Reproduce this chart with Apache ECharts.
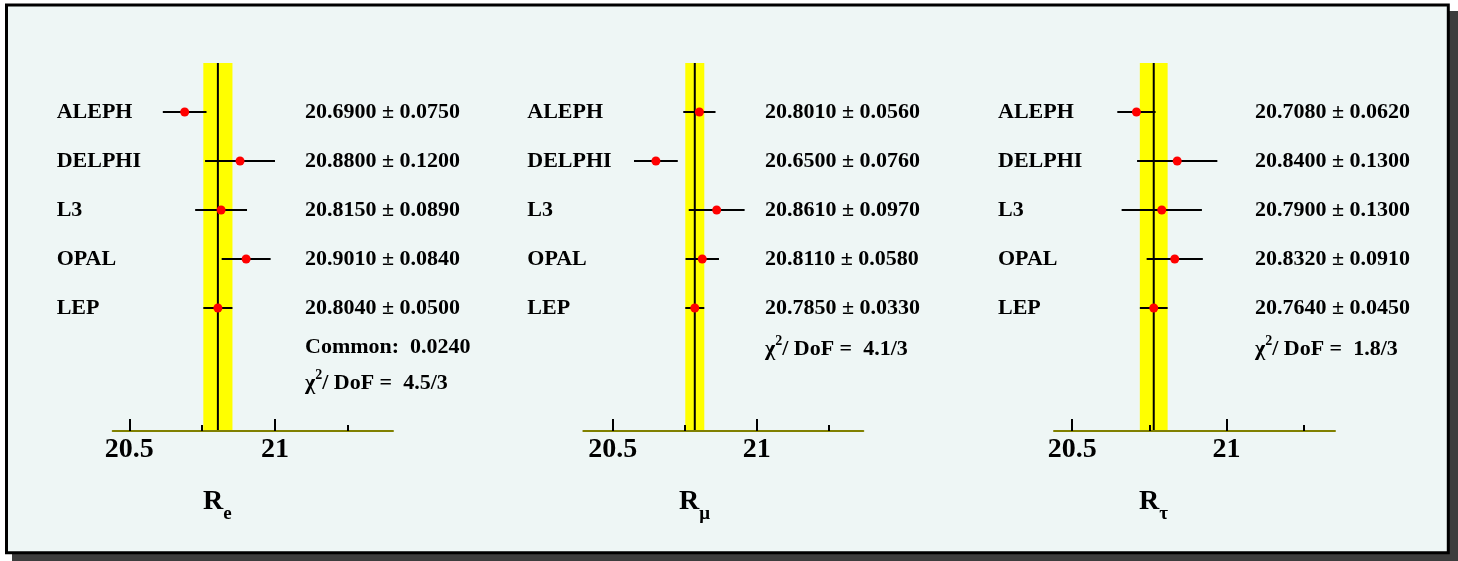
<!DOCTYPE html>
<html>
<head>
<meta charset="utf-8">
<script src="https://cdn.jsdelivr.net/npm/echarts@6/dist/echarts.min.js"></script>
<style>
  html, body { margin: 0; padding: 0; background: #ffffff; }
  #chart { width: 1458px; height: 561px; }
</style>
</head>
<body>
<div id="chart"></div>
<script>
// LEP measurements of the hadronic-to-leptonic width ratios
const experiments = ['ALEPH', 'DELPHI', 'L3', 'OPAL', 'LEP'];

const reValues   = [20.6900, 20.8800, 20.8150, 20.9010, 20.8040];
const reErrors   = [0.0750, 0.1200, 0.0890, 0.0840, 0.0500];
const rmuValues  = [20.8010, 20.6500, 20.8610, 20.8110, 20.7850];
const rmuErrors  = [0.0560, 0.0760, 0.0970, 0.0580, 0.0330];
const rtauValues = [20.7080, 20.8400, 20.7900, 20.8320, 20.7640];
const rtauErrors = [0.0620, 0.1300, 0.1300, 0.0910, 0.0450];

const commonErrors = [0.0240, null, null];
const chi2Texts = ['4.5/3', '4.1/3', '1.8/3'];

const majorTicks = [20.5, 21];
const minorTicks = [20.75, 21.25];
const tickLabels = ['20.5', '21'];

const axisSymbols = ['e', 'μ', 'τ'];

// panel geometry (pixels) and axis ranges
const panels = [
  { values: reValues,   errors: reErrors,   min: 20.443, max: 21.405, left: 112.7, width: 280.3, valueDx: 192.3, titleX: 203 },
  { values: rmuValues,  errors: rmuErrors,  min: 20.398, max: 21.370, left: 583.3, width: 280.0, valueDx: 181.7, titleX: 679 },
  { values: rtauValues, errors: rtauErrors, min: 20.441, max: 21.351, left: 1054,  width: 281.0, valueDx: 201.0, titleX: 1139 }
];

const GRID_TOP = 63;
const GRID_H = 368;
const ROW_MAX = 7.51;          // rows 1..5 sit at integer positions, axis at the bottom
const NAME_DX = -56;
const FONT = 'bold 22px "Liberation Serif", "DejaVu Serif", serif';
const LEP_INDEX = experiments.indexOf('LEP');

const grids = [], xAxes = [], yAxes = [], series = [], graphics = [];

// frame with drop shadow
graphics.push({
  type: 'rect', z: -20,
  shape: { x: 12, y: 11, width: 1446, height: 550 },
  style: { fill: '#3d3d3d' }
});
graphics.push({
  type: 'rect', z: -19,
  shape: { x: 6.5, y: 5, width: 1441.8, height: 547.8 },
  style: { fill: '#eef6f5', stroke: '#000000', lineWidth: 3 }
});

panels.forEach((p, i) => {
  grids.push({ left: p.left, top: GRID_TOP, width: p.width, height: GRID_H });

  // major ticks with labels
  xAxes.push({
    gridIndex: i, type: 'value', position: 'bottom', min: p.min, max: p.max, z: 6,
    axisLine: { show: true, onZero: false, lineStyle: { color: '#808000', width: 2 } },
    axisTick: { show: true, inside: true, length: 12, customValues: majorTicks,
                lineStyle: { color: '#000000', width: 2 } },
    axisLabel: { show: true, customValues: majorTicks, margin: 5,
                 formatter: v => tickLabels[majorTicks.indexOf(v)] ?? String(v),
                 fontSize: 28, fontWeight: 'bold', fontFamily: 'Liberation Serif', color: '#000000' },
    splitLine: { show: false }
  });
  // minor ticks
  xAxes.push({
    gridIndex: i, type: 'value', position: 'bottom', min: p.min, max: p.max, z: 7,
    axisLine: { show: false, onZero: false },
    axisTick: { show: true, inside: true, length: 6, customValues: minorTicks,
                lineStyle: { color: '#000000', width: 2 } },
    axisLabel: { show: false },
    splitLine: { show: false }
  });
  yAxes.push({ gridIndex: i, type: 'value', min: 0, max: ROW_MAX, inverse: true, show: false });

  const lepV = p.values[LEP_INDEX], lepE = p.errors[LEP_INDEX];

  // LEP average band, central line and fit notes
  series.push({
    type: 'custom', xAxisIndex: 2 * i, yAxisIndex: i, z: 1, clip: false, silent: true,
    data: [[lepV, 0, lepE]],
    encode: { x: 0, y: 1 },
    renderItem: (params, api) => {
      const v = api.value(0), e = api.value(2);
      const [xl, yt] = api.coord([v - e, 0]);
      const [xr, yb] = api.coord([v + e, ROW_MAX]);
      const [xc] = api.coord([v, 0]);
      const cs = params.coordSys;
      const tx = cs.x + p.valueDx;
      const children = [
        { type: 'rect', shape: { x: xl, y: yt, width: xr - xl, height: yb - yt }, style: { fill: '#ffff00' } },
        { type: 'line', shape: { x1: xc, y1: yt, x2: xc, y2: yb }, style: { stroke: '#000000', lineWidth: 2 } }
      ];
      let noteRow = 5.8;
      if (commonErrors[i] !== null) {
        children.push({
          type: 'text', x: tx, y: api.coord([v, noteRow])[1],
          style: { text: 'Common:  ' + commonErrors[i].toFixed(4), font: FONT, fill: '#000000', verticalAlign: 'middle', align: 'left' }
        });
        noteRow = 6.5;
      }
      children.push({
        type: 'text', x: tx, y: api.coord([v, noteRow])[1],
        style: {
          text: '{m|χ}{s|2}{m|/ DoF =  ' + chi2Texts[i] + '}',
          verticalAlign: 'middle', align: 'left', fill: '#000000',
          rich: {
            m: { font: FONT, fill: '#000000', lineHeight: 26, verticalAlign: 'bottom' },
            s: { font: 'bold 14px "Liberation Serif", serif', fill: '#000000', lineHeight: 14, verticalAlign: 'top' }
          }
        }
      });
      return { type: 'group', children };
    }
  });

  // individual measurements with their errors
  series.push({
    type: 'custom', xAxisIndex: 2 * i, yAxisIndex: i, z: 3, clip: false, silent: true,
    data: experiments.map((name, k) => [p.values[k], k + 1, p.errors[k]]),
    encode: { x: 0, y: 1 },
    renderItem: (params, api) => {
      const v = api.value(0), row = api.value(1), e = api.value(2);
      const k = params.dataIndex;
      const [x1, y] = api.coord([v - e, row]);
      const [x2] = api.coord([v + e, row]);
      const [xc] = api.coord([v, row]);
      const cs = params.coordSys;
      return {
        type: 'group',
        children: [
          { type: 'line', shape: { x1, y1: y, x2, y2: y }, style: { stroke: '#000000', lineWidth: 2 } },
          { type: 'circle', shape: { cx: xc, cy: y, r: 4.5 }, style: { fill: '#ff0000' } },
          { type: 'text', x: cs.x + NAME_DX, y,
            style: { text: experiments[k], font: FONT, fill: '#000000', verticalAlign: 'middle', align: 'left' } },
          { type: 'text', x: cs.x + p.valueDx, y,
            style: { text: v.toFixed(4) + ' ± ' + e.toFixed(4), font: FONT, fill: '#000000', verticalAlign: 'middle', align: 'left' } }
        ]
      };
    }
  });

  // axis title R with lepton subscript
  graphics.push({
    type: 'text', x: p.titleX, y: 488, z: 10,
    style: {
      text: '{r|R}{s|' + axisSymbols[i] + '}',
      fill: '#000000',
      rich: {
        r: { font: 'bold 28px "Liberation Serif", serif', fill: '#000000', lineHeight: 28, verticalAlign: 'top' },
        s: { font: 'bold 19px "Liberation Serif", serif', fill: '#000000', lineHeight: 36, verticalAlign: 'bottom' }
      }
    }
  });
});

const chart = echarts.init(document.getElementById('chart'), null, { renderer: 'canvas' });
chart.setOption({
  backgroundColor: '#ffffff',
  animation: false,
  grid: grids,
  xAxis: xAxes,
  yAxis: yAxes,
  series: series,
  graphic: { elements: graphics }
});
</script>
</body>
</html>
